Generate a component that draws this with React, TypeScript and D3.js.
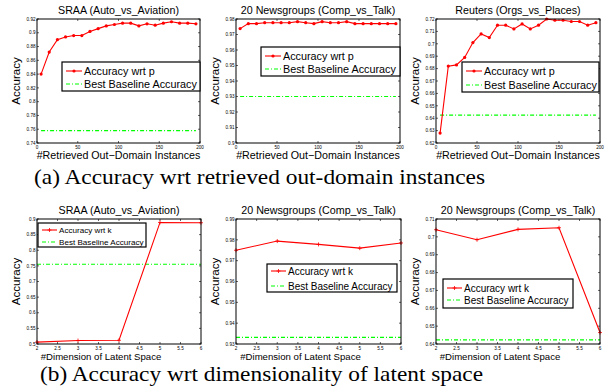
import * as d3 from "d3";

// --- data ---
const xRetrieved = [5, 15, 25, 35, 45, 55, 65, 75, 85, 95, 105, 115, 125, 135, 145, 155, 165, 175, 185, 195];
const sraaP = [0.84, 0.872, 0.89, 0.894, 0.896, 0.896, 0.902, 0.906, 0.91, 0.912, 0.914, 0.914, 0.91, 0.913, 0.911, 0.914, 0.916, 0.914, 0.914, 0.913];
const newsP = [0.9738, 0.977, 0.977, 0.9776, 0.9776, 0.9776, 0.9776, 0.9783, 0.9776, 0.977, 0.9783, 0.9776, 0.9776, 0.9783, 0.977, 0.977, 0.977, 0.977, 0.977, 0.977];
const reutersP = [0.628, 0.682, 0.683, 0.689, 0.701, 0.708, 0.705, 0.715, 0.715, 0.712, 0.716, 0.712, 0.715, 0.72, 0.719, 0.719, 0.718, 0.718, 0.715, 0.717];

const xDim = [2, 3, 4, 5, 6];
const sraaK = [0.506, 0.511, 0.512, 0.889, 0.888];
const newsK = [0.975, 0.9794, 0.9778, 0.976, 0.9785];
const news2K = [0.704, 0.6984, 0.7042, 0.7051, 0.6464];

const baselines = [0.758, 0.93, 0.6425, 0.755, 0.9332, 0.6423];

const titles = ["SRAA (Auto_vs_Aviation)", "20 Newsgroups (Comp_vs_Talk)", "Reuters (Orgs_vs_Places)", "SRAA (Auto_vs_Aviation)", "20 Newsgroups (Comp_vs_Talk)", "20 Newsgroups (Comp_vs_Talk)"];

const xTicksTop = [0, 50, 100, 150, 200];
const xTicksBottom = [2, 2.5, 3, 3.5, 4, 4.5, 5, 5.5, 6];

type Panel = {
  x0: number; x1: number; y0: number; y1: number;
  xs: number[]; ys: number[]; base: number;
  xDomain: [number, number]; yDomain: [number, number];
  xTicks: number[]; yStep: number;
  title: string; legendLabel: string; marker: "dot" | "plus";
  leg: { x: number; y: number; w: number; h: number; fs: number; lineW: number; r1: number; r2: number };
};

const topRow = { y0: 19, y1: 143 };
const botRow = { y0: 219, y1: 344 };

const panels: Panel[] = [
  { x0: 37, x1: 200, ...topRow, xs: xRetrieved, ys: sraaP, base: baselines[0], xDomain: [0, 200], yDomain: [0.74, 0.92], xTicks: xTicksTop, yStep: 0.02, title: titles[0], legendLabel: "Accuracy wrt p", marker: "dot", leg: { x: 62, y: 62, w: 138, h: 29, fs: 10.8, lineW: 16, r1: 71, r2: 84 } },
  { x0: 236, x1: 400, ...topRow, xs: xRetrieved, ys: newsP, base: baselines[1], xDomain: [0, 200], yDomain: [0.9, 0.98], xTicks: xTicksTop, yStep: 0.01, title: titles[1], legendLabel: "Accuracy wrt p", marker: "dot", leg: { x: 261, y: 47, w: 139, h: 29, fs: 10.8, lineW: 16, r1: 56, r2: 69 } },
  { x0: 436, x1: 600, ...topRow, xs: xRetrieved, ys: reutersP, base: baselines[2], xDomain: [0, 200], yDomain: [0.62, 0.72], xTicks: xTicksTop, yStep: 0.01, title: titles[2], legendLabel: "Accuracy wrt p", marker: "dot", leg: { x: 462, y: 62, w: 137, h: 30, fs: 10.8, lineW: 16, r1: 71, r2: 85 } },
  { x0: 37, x1: 201, ...botRow, xs: xDim, ys: sraaK, base: baselines[3], xDomain: [2, 6], yDomain: [0.5, 0.9], xTicks: xTicksBottom, yStep: 0.05, title: titles[3], legendLabel: "Accuracy wrt k", marker: "plus", leg: { x: 38, y: 223, w: 108, h: 24, fs: 8.1, lineW: 15, r1: 230, r2: 242 } },
  { x0: 236, x1: 401, ...botRow, xs: xDim, ys: newsK, base: baselines[4], xDomain: [2, 6], yDomain: [0.93, 0.99], xTicks: xTicksBottom, yStep: 0.01, title: titles[4], legendLabel: "Accuracy wrt k", marker: "plus", leg: { x: 267, y: 264, w: 130, h: 28, fs: 10, lineW: 15, r1: 271, r2: 286 } },
  { x0: 436, x1: 600, ...botRow, xs: xDim, ys: news2K, base: baselines[5], xDomain: [2, 6], yDomain: [0.64, 0.71], xTicks: xTicksBottom, yStep: 0.01, title: titles[5], legendLabel: "Accuracy wrt k", marker: "plus", leg: { x: 443, y: 279, w: 130, h: 29, fs: 10, lineW: 15, r1: 288, r2: 300 } },
];

const SANS = "'Liberation Sans', Arial, sans-serif";
const RED = "#ff0000";
const GREEN = "#00ff00";
const DASH = "4,2,1,2";

const fmt = (v: number) => String(+v.toFixed(3));

function Marker({ x, y, kind, r = 1.6 }: { x: number; y: number; kind: "dot" | "plus"; r?: number }) {
  if (kind === "dot") return <circle cx={x} cy={y} r={r} fill={RED} />;
  return <path d={`M${x - 2},${y}H${x + 2}M${x},${y - 2}V${y + 2}`} stroke={RED} strokeWidth={0.8} />;
}

function PanelView({ p }: { p: Panel }) {
  const x = d3.scaleLinear().domain(p.xDomain).range([p.x0, p.x1]);
  const y = d3.scaleLinear().domain(p.yDomain).range([p.y1, p.y0]);
  const nY = Math.round((p.yDomain[1] - p.yDomain[0]) / p.yStep);
  const yTicks = d3.range(nY + 1).map((i) => p.yDomain[0] + i * p.yStep);
  const line = d3.line<number>().x((_, i) => x(p.xs[i])).y((d) => y(d));
  const tl = 2;
  const L = p.leg;
  return (
    <g>
      <text x={(p.x0 + p.x1) / 2} y={p.y0 - 5} textAnchor="middle" fontFamily={SANS} fontSize={10.7}>{p.title}</text>
      {yTicks.map((t, i) => (
        <g key={"y" + i}>
          <line x1={p.x0} x2={p.x0 + tl} y1={y(t)} y2={y(t)} stroke="#000" strokeWidth={0.6} />
          <line x1={p.x1} x2={p.x1 - tl} y1={y(t)} y2={y(t)} stroke="#000" strokeWidth={0.6} />
          <text x={p.x0 - 1.5} y={y(t) + 1.7} textAnchor="end" fontFamily={SANS} fontSize={4.6}>{fmt(t)}</text>
        </g>
      ))}
      {p.xTicks.map((t, i) => (
        <g key={"x" + i}>
          <line x1={x(t)} x2={x(t)} y1={p.y1} y2={p.y1 - tl} stroke="#000" strokeWidth={0.6} />
          <line x1={x(t)} x2={x(t)} y1={p.y0} y2={p.y0 + tl} stroke="#000" strokeWidth={0.6} />
          <text x={x(t)} y={p.y1 + 6} textAnchor="middle" fontFamily={SANS} fontSize={4.6}>{fmt(t)}</text>
        </g>
      ))}
      <line x1={x(p.xs[0])} x2={x(p.xs[p.xs.length - 1])} y1={y(p.base)} y2={y(p.base)} stroke={GREEN} strokeWidth={1.1} strokeDasharray={DASH} />
      <path d={line(p.ys) ?? ""} fill="none" stroke={RED} strokeWidth={1.1} />
      {p.ys.map((v, i) => <Marker key={i} x={x(p.xs[i])} y={y(v)} kind={p.marker} />)}
      <rect x={p.x0} y={p.y0} width={p.x1 - p.x0} height={p.y1 - p.y0} fill="none" stroke="#000" strokeWidth={1} />
      <rect x={L.x} y={L.y} width={L.w} height={L.h} fill="#fff" stroke="#000" strokeWidth={1.2} />
      <line x1={L.x + 4} x2={L.x + 4 + L.lineW} y1={L.r1} y2={L.r1} stroke={RED} strokeWidth={1.1} />
      <Marker x={L.x + 4 + L.lineW / 2} y={L.r1} kind={p.marker} />
      <text x={L.x + 6 + L.lineW} y={L.r1 + L.fs * 0.36} fontFamily={SANS} fontSize={L.fs}>{p.legendLabel}</text>
      <line x1={L.x + 4} x2={L.x + 4 + L.lineW} y1={L.r2} y2={L.r2} stroke={GREEN} strokeWidth={1.1} strokeDasharray={DASH} />
      <text x={L.x + 6 + L.lineW} y={L.r2 + L.fs * 0.36} fontFamily={SANS} fontSize={L.fs}>Best Baseline Accuracy</text>
    </g>
  );
}

export default function App() {
  const W = 613;
  const H = 389;
  return (
    <svg width={W} height={H} style={{ position: "absolute", left: 0, top: 0, background: "#fff" }}>
      <rect width={W} height={H} fill="#fff" />
      {panels.map((p, i) => <PanelView key={i} p={p} />)}
      {[0, 1, 2].map((c) => {
        const p = panels[c];
        const q = panels[c + 3];
        return (
          <g key={c}>
            <text transform={`translate(${p.x0 - 17},${(p.y0 + p.y1) / 2}) rotate(-90)`} textAnchor="middle" fontFamily={SANS} fontSize={11.6}>Accuracy</text>
            <text transform={`translate(${q.x0 - 17},${(q.y0 + q.y1) / 2}) rotate(-90)`} textAnchor="middle" fontFamily={SANS} fontSize={11.6}>Accuracy</text>
            <text x={(p.x0 + p.x1) / 2} y={158.5} textAnchor="middle" fontFamily={SANS} fontSize={10.7}>#Retrieved Out−Domain Instances</text>
            <text x={(q.x0 + q.x1) / 2 - 18} y={360} textAnchor="middle" fontFamily={SANS} fontSize={9.6}>#Dimension of Latent Space</text>
          </g>
        );
      })}
      <text x={34} y={184} fontFamily="'Liberation Serif', 'DejaVu Serif', serif" fontSize={21} textLength={451} lengthAdjust="spacingAndGlyphs">(a) Accuracy wrt retrieved out-domain instances</text>
      <text x={40} y={381} fontFamily="'Liberation Serif', 'DejaVu Serif', serif" fontSize={21} textLength={443} lengthAdjust="spacingAndGlyphs">(b) Accuracy wrt dimensionality of latent space</text>
    </svg>
  );
}
